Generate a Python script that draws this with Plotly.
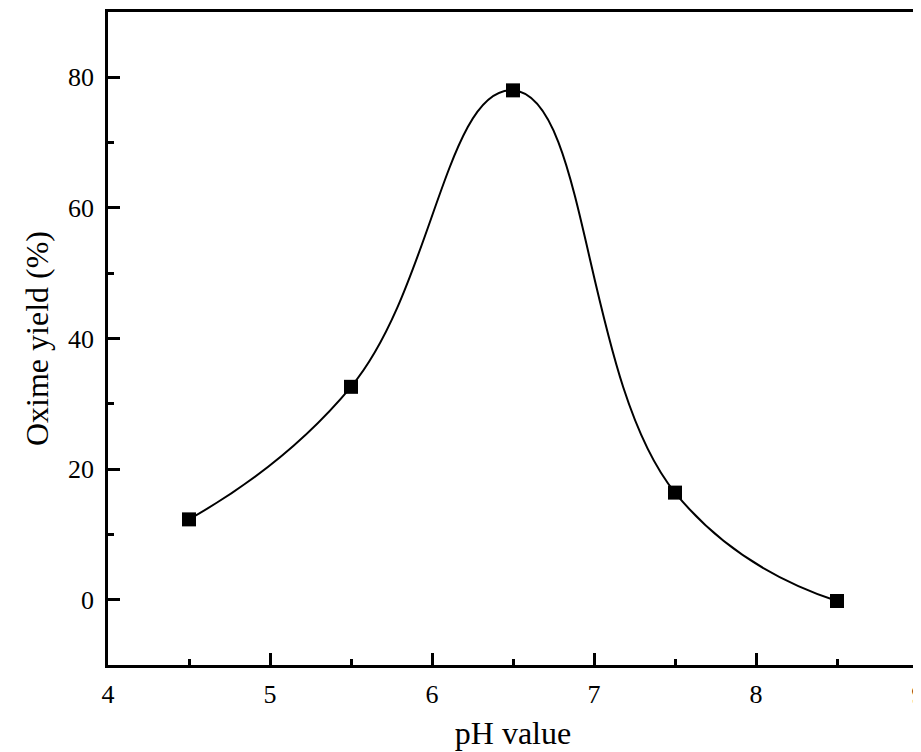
import plotly.graph_objects as go

ph = [4.5, 5.5, 6.5, 7.5, 8.5]
yield_pct = [12.3, 32.6, 78.0, 16.4, -0.2]

x_ticks = [4, 5, 6, 7, 8, 9]
y_ticks = [0, 20, 40, 60, 80]

font = "Liberation Serif, Times New Roman, serif"

fig = go.Figure()
fig.add_trace(go.Scatter(
    x=ph, y=yield_pct, mode="lines+markers",
    line=dict(color="black", width=2, shape="spline", smoothing=1.3),
    marker=dict(symbol="square", size=14, color="black"),
    showlegend=False,
))

fig.update_layout(
    width=921, height=752,
    margin=dict(l=100, r=11, t=1, b=95),
    paper_bgcolor="white", plot_bgcolor="white",
    font=dict(family=font, color="black", size=26),
    xaxis=dict(
        range=[4, 9], tickvals=x_ticks, ticktext=[str(v) for v in x_ticks],
        ticks="inside", ticklen=12, tickwidth=2.5, tickcolor="black",
        minor=dict(dtick=0.5, ticks="inside", ticklen=6, tickwidth=2.5, tickcolor="black"),
        showline=True, linecolor="black", linewidth=2.5, mirror=True,
        showgrid=False, zeroline=False,
        title=dict(text="pH value", font=dict(size=32), standoff=14),
        tickfont=dict(size=26),
        ticklabelstandoff=4,
    ),
    yaxis=dict(
        range=[-10, 90], tickvals=y_ticks, ticktext=[str(v) for v in y_ticks],
        ticks="inside", ticklen=12, tickwidth=2.5, tickcolor="black",
        minor=dict(dtick=10, ticks="inside", ticklen=6, tickwidth=2.5, tickcolor="black"),
        showline=True, linecolor="black", linewidth=2.5, mirror=True,
        showgrid=False, zeroline=False,
        title=dict(text="Oxime yield (%)", font=dict(size=32), standoff=10),
        tickfont=dict(size=26),
        ticklabelstandoff=6,
    ),
)

fig.write_html("out.html")
